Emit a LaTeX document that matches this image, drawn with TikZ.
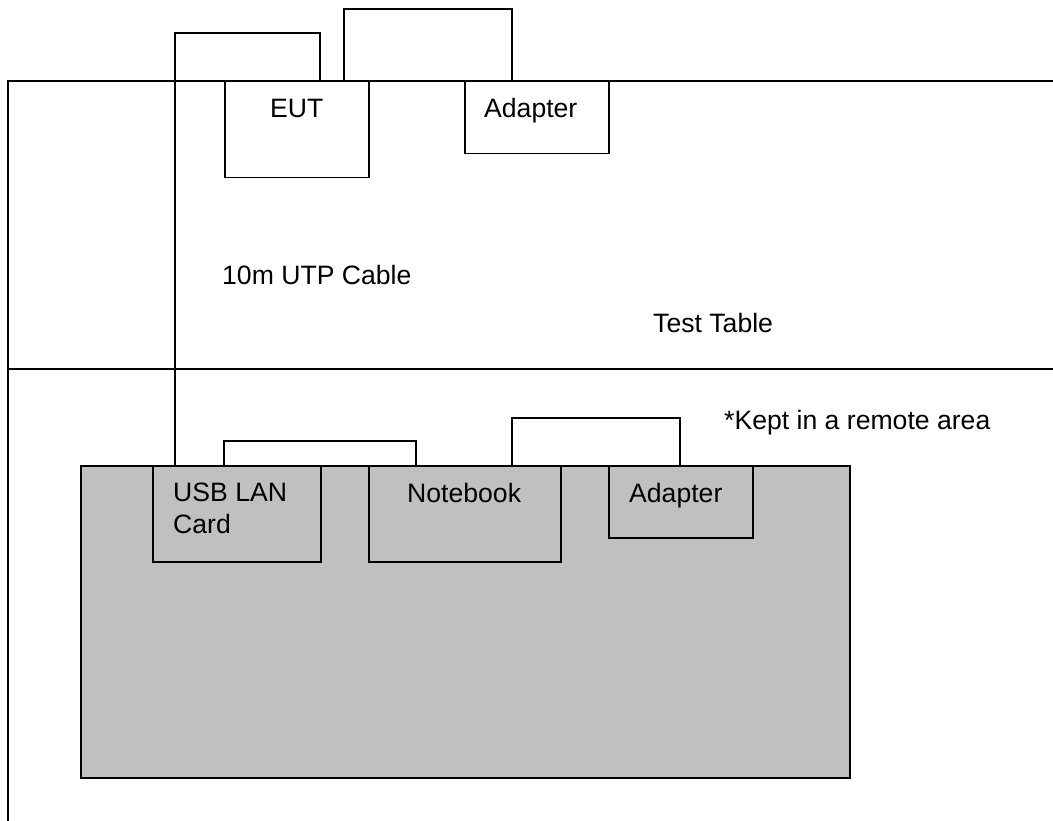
\documentclass[tikz,border=0pt]{standalone}
\usepackage{fontspec}
\setmainfont{Liberation Sans}
\begin{document}
\begin{tikzpicture}[x=1pt,y=-1pt,
  wire/.style={line width=1.5pt,line join=miter},
  devbox/.style={draw,line width=1.5pt,rectangle,anchor=north west,inner sep=0pt},
  lbl/.style={anchor=base west,inner sep=0pt,font=\fontsize{26.6}{32}\selectfont}]
\useasboundingbox (0,0) rectangle (1053,821);
% frame / table lines
\coordinate (ftop) at (8,81);
\coordinate (fbot) at (8,821);
\coordinate (fright) at (1053,81);
\coordinate (mleft) at (8,369);
\coordinate (mright) at (1053,369);
\draw[wire] (fbot) -- (ftop) -- (fright);
\draw[wire] (mleft) -- (mright);
% remote area (gray)
\node[devbox,fill={rgb,255:red,192;green,192;blue,192},minimum width=769pt,minimum height=312pt] (remote) at (80,465) {};
% boxes
\node[devbox,fill=white,minimum width=144pt,minimum height=96pt] (eut) at (224,81) {};
\node[devbox,fill=white,minimum width=144pt,minimum height=72pt] (adtop) at (464,81) {};
\node[devbox,minimum width=168pt,minimum height=96pt] (usb) at (152,465) {};
\node[devbox,minimum width=192pt,minimum height=96pt] (nb) at (368,465) {};
\node[devbox,minimum width=144pt,minimum height=72pt] (adbot) at (608,465) {};
% bend points
\coordinate (c1) at (175,33);
\coordinate (c2) at (344,9);
\coordinate (c3) at (224,441);
\coordinate (c4) at (512,418);
% connectors
\draw[wire] ([xshift=96pt]eut.north west) |- (c1) -- (c1 |- usb.north);
\draw[wire] ([xshift=120pt]eut.north west) -- (c2) -| ([xshift=48pt]adtop.north west);
\draw[wire] ([xshift=72pt]usb.north west) -- (c3) -| ([xshift=48pt]nb.north west);
\draw[wire] ([xshift=144pt]nb.north west) -- (c4) -| ([xshift=72pt]adbot.north west);
% labels
\node[lbl] (teut) at (270,118) {EUT};
\node[lbl] (tadtop) at (484,118) {Adapter};
\node[lbl,anchor=north west,align=left] (tusb) at (173,483) {USB LAN\\Card};
\node[lbl] (tnb) at (407,502) {Notebook};
\node[lbl] (tadbot) at (629,502) {Adapter};
\node[lbl] (tcable) at (222,285) {10m UTP Cable};
\node[lbl] (ttable) at (653,333) {Test Table};
\node[lbl] (tremote) at (724,429) {*Kept in a remote area};
\end{tikzpicture}
\end{document}
